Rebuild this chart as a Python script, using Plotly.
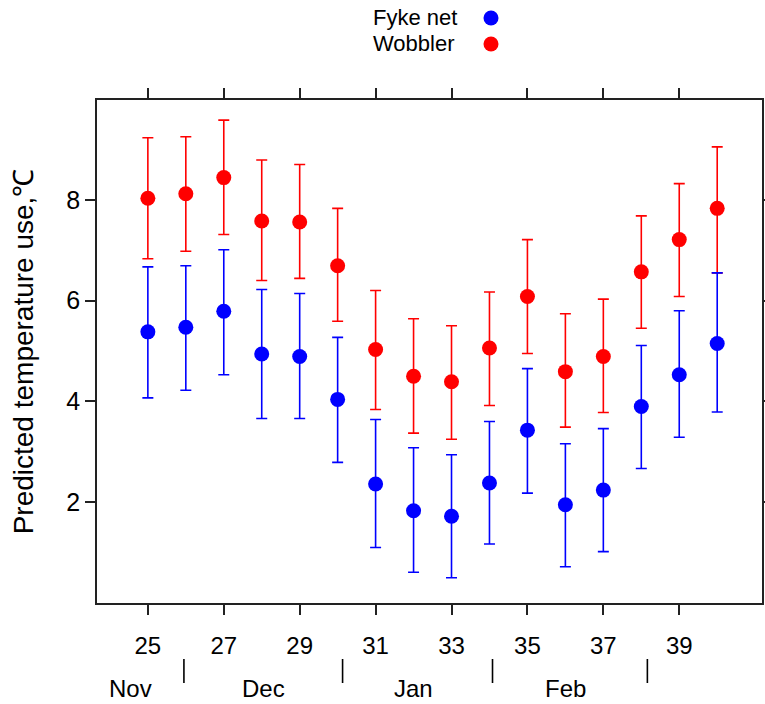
import plotly.graph_objects as go

weeks = list(range(25, 41))

fyke_mean = [5.38, 5.47, 5.79, 4.94, 4.89, 4.04, 2.36, 1.83, 1.72, 2.38, 3.43, 1.95, 2.24, 3.90, 4.53, 5.15]
fyke_upper = [6.67, 6.69, 7.01, 6.22, 6.14, 5.27, 3.64, 3.08, 2.94, 3.60, 4.65, 3.16, 3.46, 5.11, 5.80, 6.55]
fyke_lower = [4.07, 4.22, 4.53, 3.66, 3.66, 2.79, 1.10, 0.61, 0.50, 1.17, 2.18, 0.72, 1.02, 2.67, 3.29, 3.79]

wob_mean = [8.03, 8.12, 8.44, 7.58, 7.56, 6.69, 5.03, 4.50, 4.39, 5.06, 6.08, 4.59, 4.89, 6.57, 7.21, 7.83]
wob_upper = [9.23, 9.25, 9.58, 8.79, 8.70, 7.83, 6.20, 5.64, 5.50, 6.17, 7.21, 5.74, 6.03, 7.68, 8.32, 9.05]
wob_lower = [6.83, 6.98, 7.31, 6.40, 6.44, 5.59, 3.84, 3.37, 3.25, 3.92, 4.95, 3.49, 3.78, 5.45, 6.08, 6.55]

x_ticks = [25, 27, 29, 31, 33, 35, 37, 39]
y_ticks = [2, 4, 6, 8]
months = ["Nov", "Dec", "Jan", "Feb"]
month_pos = [24.55, 28.05, 32.0, 36.0]
sep_pos = [25.95, 30.13, 34.08, 38.16]

series_names = ["Fyke net", "Wobbler"]
series_colors = ["#0000FF", "#FF0000"]

W, H = 765, 704
L, R, T, B = 97, 3, 100, 101
pw, ph = W - L - R, H - T - B

fig = go.Figure()


def add_series(mean, up, lo, color, name):
    fig.add_trace(go.Scatter(
        x=weeks, y=mean, mode="markers", name=name, showlegend=False,
        marker=dict(color=color, size=15, symbol="circle", line=dict(width=0)),
        error_y=dict(type="data", symmetric=False,
                     array=[u - m for u, m in zip(up, mean)],
                     arrayminus=[m - l for m, l in zip(mean, lo)],
                     color=color, thickness=1.6, width=5.5),
    ))


add_series(wob_mean, wob_upper, wob_lower, series_colors[1], series_names[1])
add_series(fyke_mean, fyke_upper, fyke_lower, series_colors[0], series_names[0])

narrow = "Liberation Sans Narrow, Arial Narrow, Liberation Sans, Arial, sans-serif"
arial = "Liberation Sans, Arial, sans-serif"

annotations = []
shapes = []
for m, p in zip(months, month_pos):
    annotations.append(dict(x=p, y=(T + ph - 688) / ph, xref="x", yref="paper",
                            text=m, showarrow=False, xanchor="center", yanchor="middle",
                            font=dict(family=narrow, size=24, color="black")))
for p in sep_pos:
    shapes.append(dict(type="line", xref="x", yref="paper", x0=p, x1=p,
                       y0=(T + ph - 683) / ph, y1=(T + ph - 659) / ph,
                       line=dict(color="black", width=1.6)))

# legend (text left, key right)
leg_y = [18, 44]
for name, color, yy in zip(series_names, series_colors, leg_y):
    py = (T + ph - yy) / ph
    annotations.append(dict(x=(371 - L) / pw, y=py, xref="paper", yref="paper",
                            text=name, showarrow=False, xanchor="left", yanchor="middle",
                            font=dict(family=arial, size=22, color="black")))
    shapes.append(dict(type="circle", xref="paper", yref="paper",
                       xsizemode="pixel", ysizemode="pixel",
                       xanchor=(491 - L) / pw, yanchor=py,
                       x0=-7.5, x1=7.5, y0=-7.5, y1=7.5,
                       fillcolor=color, line=dict(width=0)))

axis_common = dict(showgrid=False, zeroline=False, showline=True, linecolor="#222222",
                   linewidth=1.6, mirror="ticks", ticks="outside", ticklen=10,
                   tickwidth=1.6, tickcolor="#222222", automargin=False)

fig.update_layout(
    width=W, height=H,
    margin=dict(l=L, r=R, t=T, b=B),
    paper_bgcolor="white", plot_bgcolor="white",
    xaxis=dict(range=[23.66, 41.18], tickvals=x_ticks, ticktext=[str(v) for v in x_ticks],
               tickfont=dict(family=narrow, size=24, color="black"),
               ticklabelstandoff=10, **axis_common),
    yaxis=dict(range=[0, 9.98], tickvals=y_ticks, ticktext=[str(v) for v in y_ticks],
               tickfont=dict(family=arial, size=25, color="black"),
               ticklabelstandoff=0,
               title=dict(text="Predicted temperature use,℃", font=dict(family=arial, size=28, color="black"),
                          standoff=24),
               **axis_common),
    annotations=annotations, shapes=shapes,
    showlegend=False,
)

fig.write_html("out.html")
